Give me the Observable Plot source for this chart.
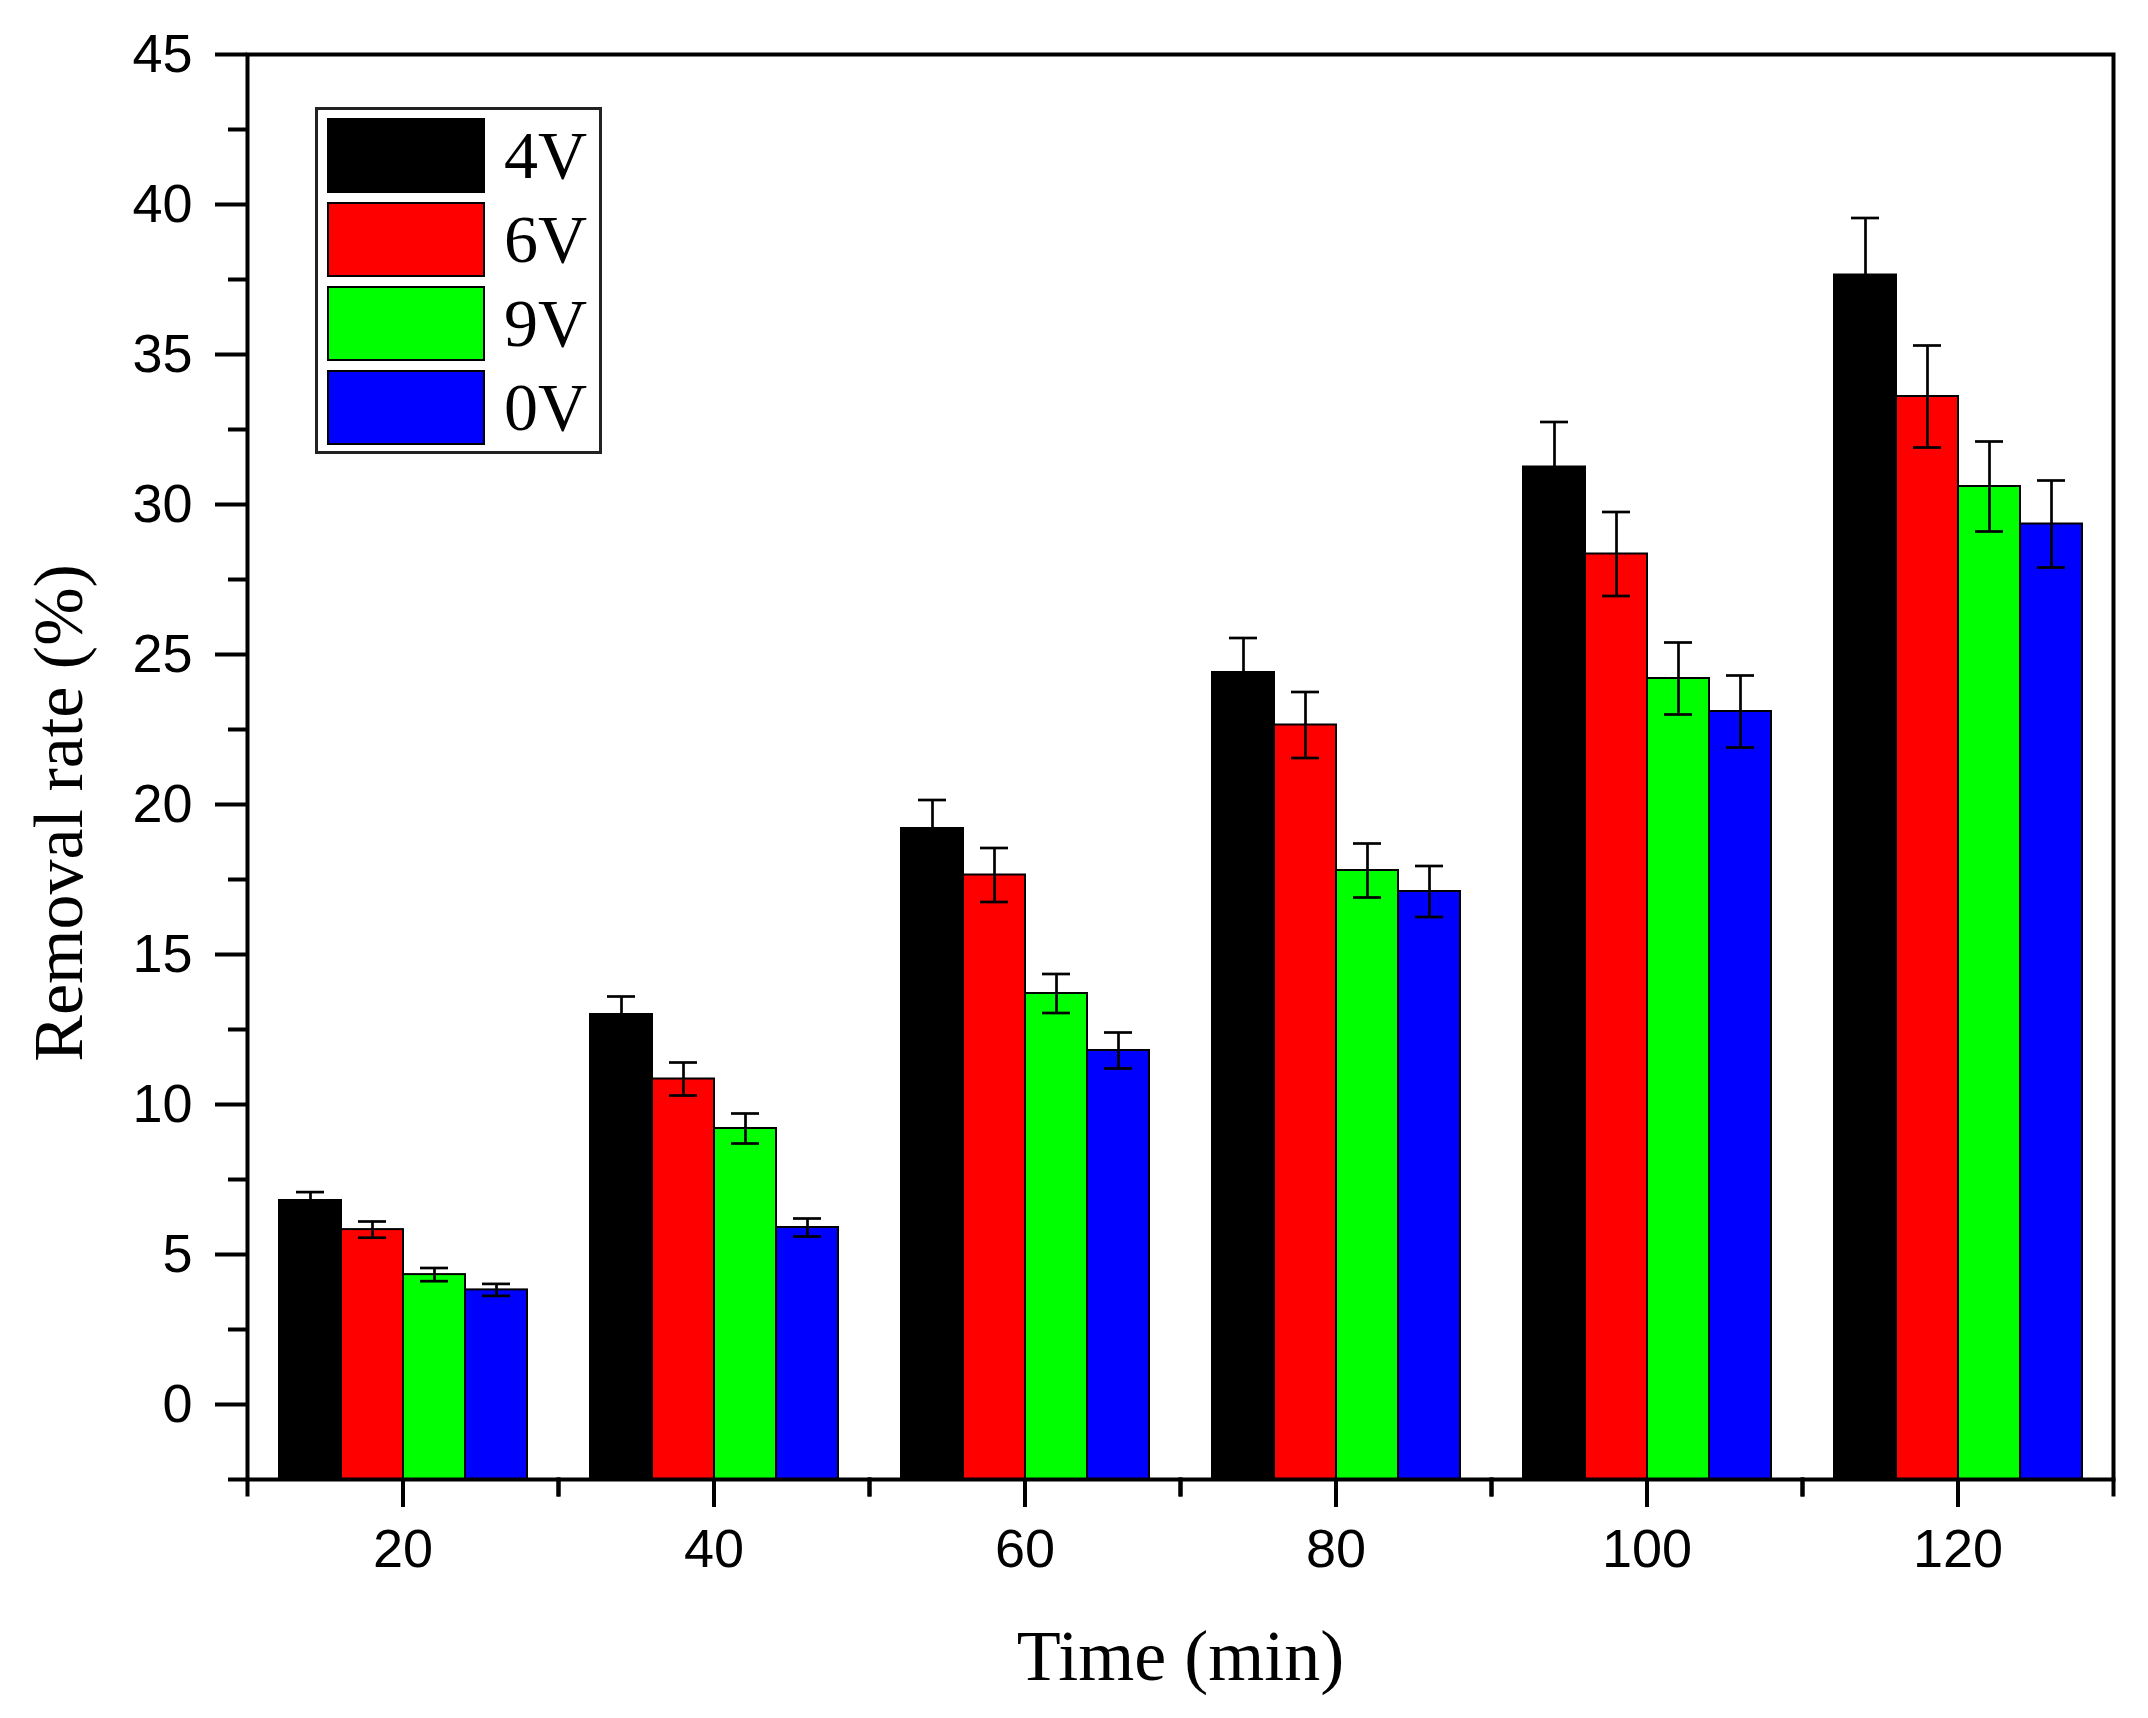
<!DOCTYPE html>
<html lang="en">
<head>
    <meta charset="UTF-8">
    <title>Removal rate vs time</title>
    <script src="https://d3js.org/d3.v7.min.js"></script>
    <script src="https://cdn.jsdelivr.net/npm/@observablehq/plot@0.6"></script>
    <style>
        body { margin: 0; background: #fff; }
        #chart { position: relative; width: 2148px; height: 1718px; }
        #chart svg text { font-family: "Liberation Sans", Arial, sans-serif; }
        #chart g[aria-label="y-axis label"] text,
        #chart g[aria-label="fx-axis label"] text {
            font-family: "Liberation Serif", "Times New Roman", serif;
            font-size: 70px;
        }
        #chart g[aria-label="fx-axis label"] text { font-size: 72px; }
        #chart g[aria-label="y-axis label"] { translate: 0 46px; }
        .legend {
            position: absolute; left: 315px; top: 107px;
            width: 287px; box-sizing: border-box;
            border: 3px solid #222; background: #fff;
            padding: 8px 0 6px 9px;
            display: flex; flex-direction: column; gap: 9px;
        }
        .legend .row { display: flex; align-items: center; height: 75px; }
        .legend .sw { width: 158px; height: 75px; box-sizing: border-box; border: 2px solid #000; }
        .legend .lab {
            margin-left: 19px;
            font-family: "Liberation Serif", "Times New Roman", serif;
            font-size: 68px; line-height: 75px; white-space: nowrap;
        }
    </style>
</head>
<body>
    <div id="chart"></div>

    <script>
        const times = [20, 40, 60, 80, 100, 120];
        const series = ["4V", "6V", "9V", "0V"];
        const colors = ["#000000", "#ff0000", "#00ff00", "#0000ff"];

        // removal rate (%) and error per series, one value per time
        const v4V = [6.8, 13.0, 19.2, 24.4, 31.25, 37.65];
        const e4V = [0.28, 0.6, 0.95, 1.15, 1.5, 1.9];
        const v6V = [5.83, 10.85, 17.65, 22.65, 28.35, 33.6];
        const e6V = [0.27, 0.55, 0.9, 1.1, 1.4, 1.7];
        const v9V = [4.33, 9.2, 13.7, 17.8, 24.2, 30.6];
        const e9V = [0.22, 0.5, 0.65, 0.9, 1.2, 1.5];
        const v0V = [3.82, 5.9, 11.8, 17.1, 23.1, 29.35];
        const e0V = [0.2, 0.3, 0.6, 0.85, 1.2, 1.45];

        const yMin = -2.5;
        const yMax = 45;
        const yTicks = [0, 5, 10, 15, 20, 25, 30, 35, 40, 45];
        const yMinorTicks = [-2.5, 2.5, 7.5, 12.5, 17.5, 22.5, 27.5, 32.5, 37.5, 42.5];

        const valuesBySeries = {"4V": v4V, "6V": v6V, "9V": v9V, "0V": v0V};
        const errorsBySeries = {"4V": e4V, "6V": e6V, "9V": e9V, "0V": e0V};

        const data = [];
        series.forEach(s => {
            times.forEach((t, i) => {
                data.push({time: t, series: s, value: valuesBySeries[s][i], err: errorsBySeries[s][i]});
            });
        });

        const marginTop = 54, marginBottom = 239;
        const height = 1718;
        const innerHeight = height - marginTop - marginBottom;

        const plot = Plot.plot({
            width: 2148,
            height: height,
            marginLeft: 247,
            marginRight: 35,
            marginTop: marginTop,
            marginBottom: marginBottom,
            style: {background: "#fff", fontFamily: "Liberation Sans, Arial, sans-serif"},
            fx: {domain: times, padding: 0},
            x: {domain: series, paddingInner: 0, paddingOuter: 0.48, axis: null},
            y: {domain: [yMin, yMax]},
            color: {domain: series, range: colors},
            marks: [
                Plot.barY(data, {
                    fx: "time", x: "series", y1: yMin, y2: "value",
                    fill: "series", stroke: "#000", strokeWidth: 2
                }),
                Plot.ruleX(data, {
                    fx: "time", x: "series",
                    y1: d => d.value - d.err, y2: d => d.value + d.err,
                    stroke: "#000", strokeWidth: 2.7
                }),
                Plot.tickY(data, {
                    fx: "time", x: "series", y: d => d.value + d.err,
                    insetLeft: 17, insetRight: 17, stroke: "#000", strokeWidth: 2.7
                }),
                Plot.tickY(data, {
                    fx: "time", x: "series", y: d => d.value - d.err,
                    insetLeft: 17, insetRight: 17, stroke: "#000", strokeWidth: 2.7
                }),
                // minor ticks at group boundaries, below the x axis
                Plot.frame({anchor: "left", insetTop: innerHeight, insetBottom: -15, strokeWidth: 4}),
                Plot.frame({anchor: "right", insetTop: innerHeight, insetBottom: -15, strokeWidth: 4}),
                Plot.axisY({
                    ticks: yTicks, tickSize: 32, tickPadding: 23, fontSize: 54, strokeWidth: 4,
                    label: "Removal rate (%)", labelAnchor: "center", labelOffset: 215, labelArrow: "none"
                }),
                Plot.axisY({
                    ticks: yMinorTicks, tickSize: 19, strokeWidth: 4,
                    tickFormat: () => "", label: null
                }),
                Plot.axisFx({
                    anchor: "bottom", tickSize: 28, tickPadding: 21, fontSize: 54, strokeWidth: 4,
                    label: "Time (min)", labelAnchor: "center", labelOffset: 200, labelArrow: "none"
                }),
                Plot.frame({facet: "super", stroke: "#000", strokeWidth: 4})
            ]
        });

        const chart = document.getElementById("chart");
        chart.append(plot);

        // legend drawn inside the plot area like the original
        const legend = document.createElement("div");
        legend.className = "legend";
        series.forEach((s, i) => {
            const row = document.createElement("div");
            row.className = "row";
            const sw = document.createElement("div");
            sw.className = "sw";
            sw.style.background = colors[i];
            const lab = document.createElement("span");
            lab.className = "lab";
            lab.textContent = s;
            row.append(sw, lab);
            legend.append(row);
        });
        chart.append(legend);
    </script>
</body>
</html>
